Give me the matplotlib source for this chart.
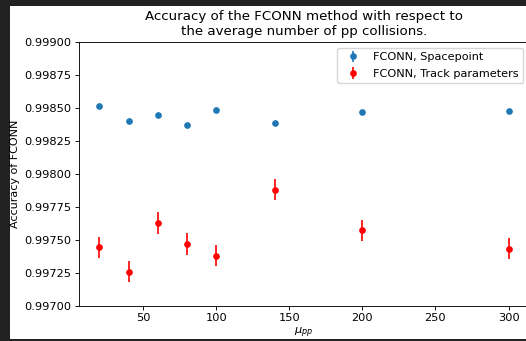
import matplotlib
matplotlib.use("Agg")
import matplotlib.pyplot as plt
from matplotlib.patches import Rectangle

mu = [20, 40, 60, 80, 100, 140, 200, 300]
acc_spacepoint = [0.998518, 0.998404, 0.998444, 0.998368, 0.998482, 0.998386, 0.998470, 0.998480]
err_spacepoint = [0.000002, 0.000002, 0.000002, 0.000002, 0.000002, 0.000002, 0.000002, 0.000002]
acc_track = [0.997444, 0.997256, 0.997628, 0.997467, 0.997380, 0.997879, 0.997573, 0.997433]
err_track = [0.000080, 0.000080, 0.000082, 0.000082, 0.000082, 0.000080, 0.000080, 0.000080]
labels = ["FCONN, Spacepoint", "FCONN, Track parameters"]
yticks = [0.997, 0.99725, 0.9975, 0.99775, 0.998, 0.99825, 0.9985, 0.99875, 0.999]

W, H = 526, 341
fig = plt.figure(figsize=(W / 100, H / 100), dpi=100, facecolor="#222222")
fig.patches.append(Rectangle((10 / W, 2 / H), 1.0, (339 - 6) / H, transform=fig.transFigure,
                             facecolor="white", edgecolor="none", zorder=-1))

ax = fig.add_axes([79 / W, (H - 305.7) / H, (529 - 79) / W, (305.7 - 42) / H])
ax.set_facecolor("white")
ax.errorbar(mu, acc_spacepoint, yerr=err_spacepoint, fmt="o", color="#1f77b4",
            markersize=3.8, elinewidth=1.2, label=labels[0])
ax.errorbar(mu, acc_track, yerr=err_track, fmt="o", color="red",
            markersize=3.8, elinewidth=1.2, label=labels[1])
ax.set_xlim(6, 314)
ax.set_ylim(0.997, 0.999)
ax.set_yticks(yticks)
ax.set_yticklabels([f"{v:.5f}" for v in yticks])
ax.set_xticks([50, 100, 150, 200, 250, 300])
ax.tick_params(labelsize=8.2, length=2.8, width=0.64, pad=2.8)
for s in ax.spines.values():
    s.set_linewidth(0.64)
ax.set_title("Accuracy of the FCONN method with respect to\nthe average number of pp collisions.",
             fontsize=9.6, pad=4.8)
ax.set_ylabel("Accuracy of FCONN", fontsize=8, labelpad=3)
ax.set_xlabel(r"$\mu_{pp}$", fontsize=8.2, labelpad=1.5)
ax.legend(fontsize=8.1, loc="upper right", labelspacing=0.6)
fig.savefig("out.png", dpi=100, facecolor=fig.get_facecolor())
